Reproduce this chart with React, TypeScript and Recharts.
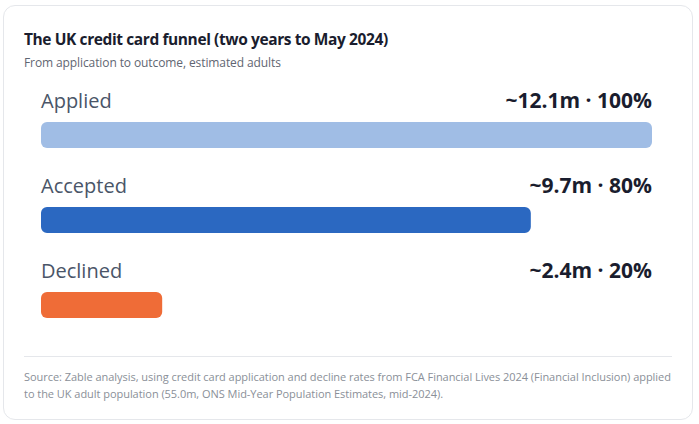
import React from 'react';
import { BarChart, Bar, XAxis, YAxis, LabelList, Cell } from 'recharts';

const stages = ['Applied', 'Accepted', 'Declined'];
const adultsMillions = [12.1, 9.7, 2.4];
const shareOfApplied = [100, 80, 20];
const valueLabels = ['~12.1m · 100%', '~9.7m · 80%', '~2.4m · 20%'];
const barColors = ['#a0bde5', '#2b68c1', '#ef6c37'];

const data = stages.map((name, i) => ({
    name,
    adults: adultsMillions[i],
    share: shareOfApplied[i],
    label: valueLabels[i],
}));

const FONT = '"Open Sans", "Noto Sans", sans-serif';
const CHART_W = 699;
const CHART_H = 424;
const MARGIN = { top: 92, right: 47, bottom: 77, left: 41 };
const PLOT_RIGHT = CHART_W - MARGIN.right;

const NameLabel = (props: any) => {
    const { x, y, value } = props;
    return (
        <text x={x} y={y - 14} fill="#4a5568" fontSize={20} fontFamily={FONT}>
            {value}
        </text>
    );
};

const ValueLabel = (props: any) => {
    const { y, value } = props;
    return (
        <text
            x={PLOT_RIGHT}
            y={y - 14}
            fill="#1a1d2e"
            fontSize={21}
            fontWeight={700}
            fontFamily={FONT}
            textAnchor="end"
        >
            {value}
        </text>
    );
};

export default function App() {
    return (
        <div style={{ position: 'absolute', left: 0, top: 0, width: CHART_W, height: CHART_H, fontFamily: FONT }}>
            <div
                style={{
                    position: 'absolute',
                    left: 3,
                    top: 5,
                    width: 690,
                    height: 415,
                    border: '1px solid #e5e7eb',
                    borderRadius: 12,
                    boxSizing: 'border-box',
                    background: '#fff',
                }}
            />
            <div
                style={{
                    position: 'absolute',
                    left: 24,
                    top: 28,
                    fontSize: 15.5,
                    fontWeight: 700,
                    letterSpacing: -0.4,
                    color: '#1a1d2e',
                    whiteSpace: 'nowrap',
                }}
            >
                The UK credit card funnel (two years to May 2024)
            </div>
            <div
                style={{
                    position: 'absolute',
                    left: 24,
                    top: 54,
                    fontSize: 12,
                    letterSpacing: -0.1,
                    color: '#5f6672',
                    whiteSpace: 'nowrap',
                }}
            >
                From application to outcome, estimated adults
            </div>
            <div style={{ position: 'absolute', left: 0, top: 0 }}>
                <BarChart width={CHART_W} height={CHART_H} data={data} layout="vertical" margin={MARGIN}>
                    <XAxis type="number" hide domain={[0, 12.1]} />
                    <YAxis type="category" dataKey="name" hide />
                    <Bar dataKey="adults" barSize={26} radius={6} isAnimationActive={false}>
                        {data.map((d, i) => (
                            <Cell key={`cell-${i}`} fill={barColors[i]} />
                        ))}
                        <LabelList dataKey="name" content={NameLabel} />
                        <LabelList dataKey="label" content={ValueLabel} />
                    </Bar>
                </BarChart>
            </div>
            <div style={{ position: 'absolute', left: 24, top: 356, width: 648, borderTop: '1px solid #e5e7eb' }} />
            <div
                style={{
                    position: 'absolute',
                    left: 24,
                    top: 368,
                    fontSize: 11,
                    letterSpacing: -0.04,
                    lineHeight: '17px',
                    color: '#8a8f98',
                    whiteSpace: 'nowrap',
                }}
            >
                Source: Zable analysis, using credit card application and decline rates from FCA Financial Lives 2024 (Financial Inclusion) applied
                <br />
                to the UK adult population (55.0m, ONS Mid-Year Population Estimates, mid-2024).
            </div>
        </div>
    );
}
